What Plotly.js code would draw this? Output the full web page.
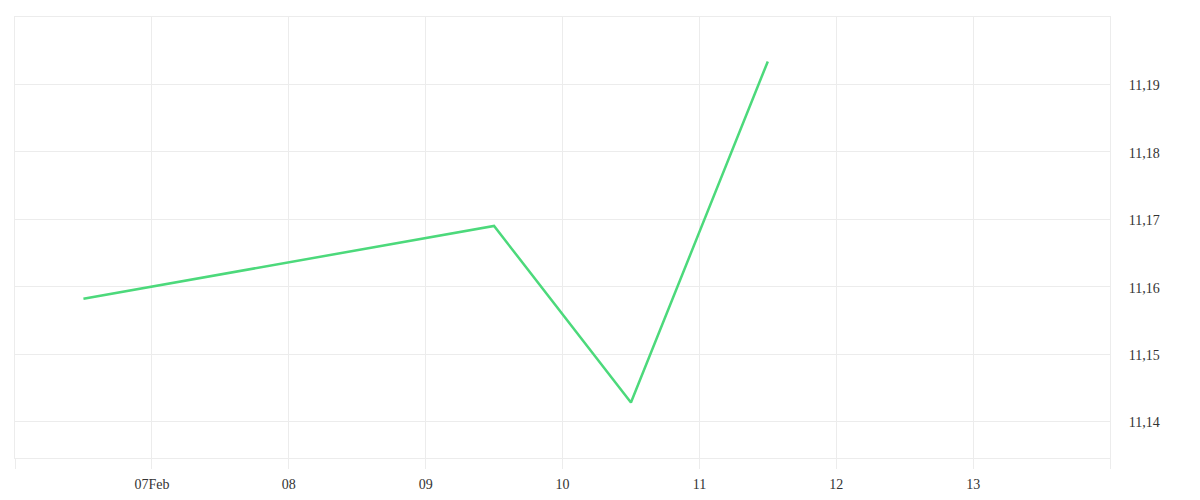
<!DOCTYPE html>
<html>
<head>
<meta charset="utf-8">
<script src="https://cdn.plot.ly/plotly-3.0.1.min.js"></script>
<style>html,body{margin:0;padding:0;background:#fff;}#chart{width:1200px;height:500px;}</style>
</head>
<body>
<div id="chart"></div>
<script>
const dates = ["2015-02-06 12:00", "2015-02-09 12:00", "2015-02-10 12:00", "2015-02-11 12:00"];
const values = [11.1582, 11.1690, 11.1428, 11.1934];
const xTickVals = ["2015-02-06", "2015-02-07", "2015-02-08", "2015-02-09", "2015-02-10", "2015-02-11", "2015-02-12", "2015-02-13", "2015-02-14"];
const xTickText = ["", "07Feb", "08", "09", "10", "11", "12", "13", ""];
const yTickVals = [11.14, 11.15, 11.16, 11.17, 11.18, 11.19];
const yTickText = ["11,14", "11,15", "11,16", "11,17", "11,18", "11,19"];

const gridColor = "#ececec";
const font = {family: "'Liberation Serif', serif", size: 14, color: "#333333"};

Plotly.newPlot("chart", [{
  x: dates, y: values, type: "scatter", mode: "lines",
  line: {color: "#4cd97b", width: 2.5},
  hoverinfo: "skip"
}], {
  width: 1200, height: 500,
  margin: {l: 15, r: 90, t: 17, b: 42, pad: 0},
  paper_bgcolor: "#fff", plot_bgcolor: "#fff",
  showlegend: false,
  font: font,
  xaxis: {
    type: "date",
    range: ["2015-02-06", "2015-02-14"],
    tickmode: "array", tickvals: xTickVals, ticktext: xTickText,
    showgrid: true, gridcolor: gridColor, gridwidth: 1,
    ticks: "outside", ticklen: 10, tickcolor: gridColor, tickwidth: 1,
    ticklabelstandoff: 3,
    showline: true, linecolor: gridColor, mirror: true,
    zeroline: false, tickfont: font, fixedrange: true
  },
  yaxis: {
    side: "right",
    range: [11.13457, 11.2000],
    tickmode: "array", tickvals: yTickVals, ticktext: yTickText,
    showgrid: true, gridcolor: gridColor, gridwidth: 1,
    ticks: "outside", ticklen: 15, tickcolor: "rgba(0,0,0,0)",
    ticklabelshift: 1,
    showline: true, linecolor: gridColor, mirror: true,
    zeroline: false, tickfont: font, fixedrange: true
  }
}, {displayModeBar: false, staticPlot: true});
</script>
</body>
</html>
